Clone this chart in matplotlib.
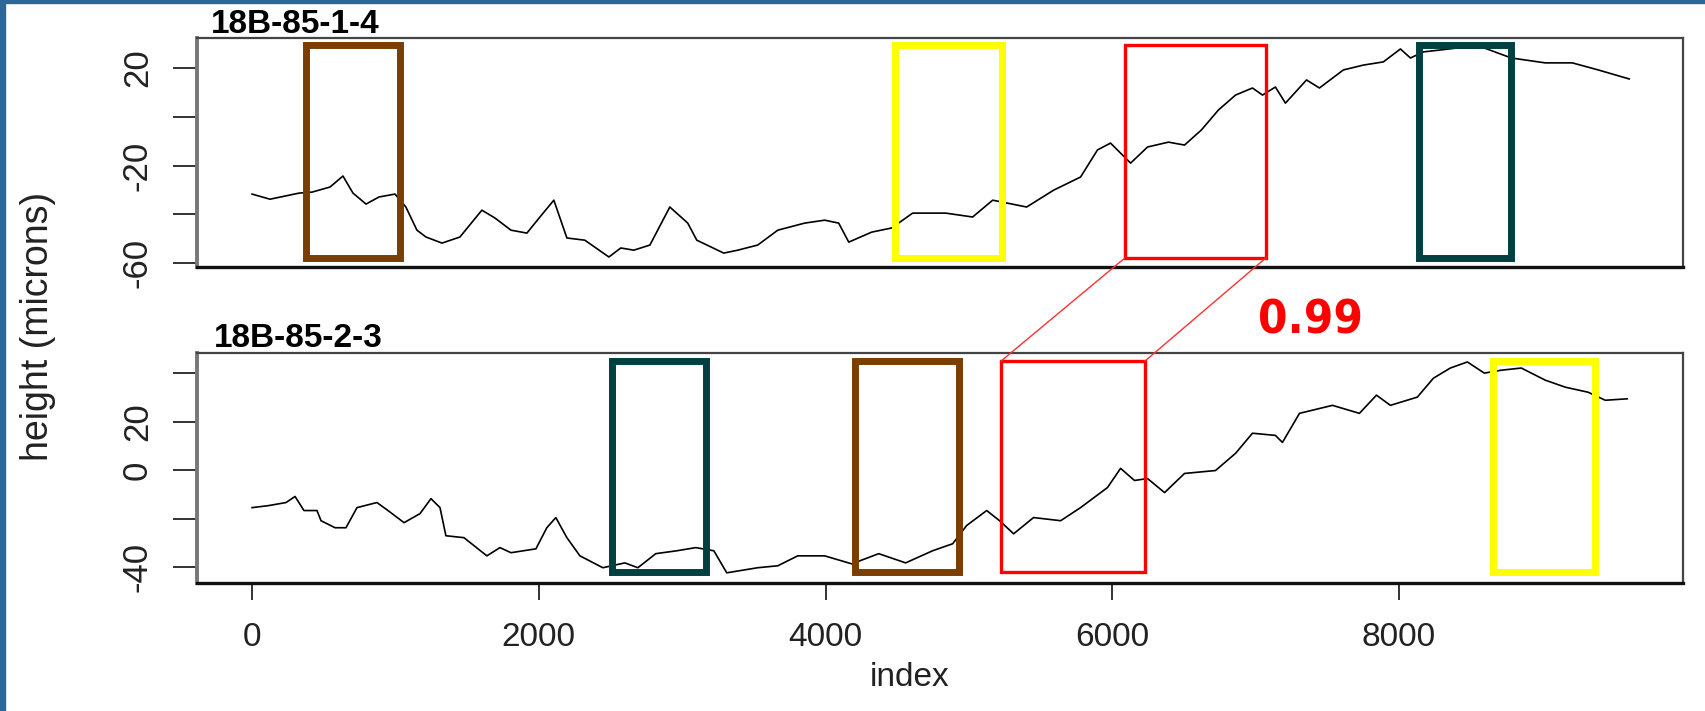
import matplotlib.pyplot as plt
from matplotlib.patches import ConnectionPatch, Rectangle

# profile 18B-85-1-4 (index, height in microns)
top_idx = [0, 125, 328, 418, 544, 634, 704, 795, 885, 997, 1073, 1150, 1213, 1325,
           1450, 1603, 1694, 1806, 1917, 2008, 2105, 2196, 2321, 2489, 2572, 2663,
           2775, 2914, 3039, 3102, 3290, 3388, 3527, 3667, 3855, 3994, 4092, 4162,
           4322, 4461, 4608, 4838, 5026, 5166, 5403, 5591, 5779, 5897, 5988, 6128,
           6246, 6392, 6504, 6622, 6741, 6860, 6978, 7048, 7138, 7208, 7355, 7445,
           7612, 7752, 7891, 8010, 8080, 8170, 8407, 8595, 8784, 9020, 9209, 9390, 9606]
top_height = [-31.7, -33.8, -31.3, -30.9, -28.8, -24.3, -31.3, -35.8, -32.9, -31.7, -37.0,
              -46.5, -49.3, -51.8, -49.3, -38.3, -41.5, -46.5, -47.7, -41.1, -34.2, -49.7,
              -50.6, -57.5, -53.8, -54.7, -52.6, -37.0, -43.6, -50.6, -55.9, -54.7, -52.6,
              -46.5, -43.6, -42.4, -43.6, -51.4, -47.3, -45.6, -39.5, -39.5, -41.1, -34.2,
              -37.0, -30.1, -24.7, -13.6, -10.8, -19.0, -12.4, -10.4, -11.6, -5.4, 2.8, 8.9,
              11.8, 8.9, 12.2, 5.6, 15.1, 11.8, 19.2, 21.2, 22.5, 27.8, 24.1, 26.6, 28.2,
              28.2, 24.1, 22.1, 22.1, 19.2, 15.5]

# profile 18B-85-2-3
bottom_idx = [0, 112, 237, 300, 362, 453, 481, 579, 655, 732, 871, 948, 1060, 1171, 1248,
              1311, 1352, 1478, 1638, 1729, 1806, 1980, 2056, 2119, 2196, 2287, 2447, 2600,
              2691, 2816, 2963, 3095, 3221, 3311, 3527, 3667, 3806, 3994, 4183, 4371, 4559,
              4747, 4887, 4984, 5124, 5214, 5312, 5451, 5640, 5779, 5967, 6058, 6155, 6246,
              6365, 6504, 6720, 6860, 6978, 7138, 7187, 7306, 7536, 7724, 7843, 7940, 8128,
              8240, 8358, 8477, 8595, 8714, 8853, 9020, 9160, 9320, 9439, 9592]
bottom_height = [-15.5, -14.7, -13.4, -10.9, -16.7, -16.7, -20.9, -23.8, -23.8, -15.5, -13.4,
                 -16.7, -21.7, -18.0, -11.8, -15.5, -27.1, -27.9, -35.4, -32.0, -34.1, -32.5,
                 -23.8, -19.6, -27.9, -35.4, -40.3, -38.3, -40.3, -34.5, -33.3, -32.0, -33.3,
                 -42.4, -40.3, -39.5, -35.4, -35.4, -38.7, -34.5, -38.3, -33.3, -30.4, -22.9,
                 -16.7, -20.9, -26.3, -19.6, -20.9, -15.5, -7.2, 0.7, -4.3, -3.5, -9.3, -1.4,
                 -0.2, 6.9, 15.2, 14.3, 11.4, 23.4, 26.7, 23.4, 30.9, 26.7, 30.1, 37.9, 42.1,
                 44.6, 40.0, 41.2, 42.1, 37.1, 34.2, 32.1, 28.8, 29.4]

top_name = "18B-85-1-4"
bottom_name = "18B-85-2-3"

# highlighted index windows (start, end)
top_windows = {"brown": (373, 1029), "yellow": (4488, 5234), "red": (6089, 7072), "teal": (8140, 8781)}
bottom_windows = {"teal": (2511, 3166), "brown": (4209, 4931), "red": (5224, 6228), "yellow": (8656, 9367)}
match_score = "0.99"

x_ticks = [0, 2000, 4000, 6000, 8000]
top_yticks = [-60, -40, -20, 0, 20]
top_ytick_labels = ["-60", "", "-20", "", "20"]
bottom_yticks = [-40, -20, 0, 20, 40]
bottom_ytick_labels = ["-40", "", "0", "20", ""]

W, H = 1706, 711
colors = {"brown": "#7a3e00", "yellow": "#ffff00", "red": "#ff0000", "teal": "#004040"}
widths = {"brown": 5, "yellow": 5, "red": 2.4, "teal": 5}
narrow = ["Liberation Sans Narrow", "Liberation Sans", "DejaVu Sans"]

plt.rcParams["font.family"] = ["Liberation Sans", "DejaVu Sans"]


def px_box(left, top, right, bottom):
    return [left / W, 1 - bottom / H, (right - left) / W, (bottom - top) / H]


fig = plt.figure(figsize=(W / 100, H / 100), dpi=100)
fig.patch.set_facecolor("white")

ax_top = fig.add_axes(px_box(197, 38, 1683, 267))
ax_bot = fig.add_axes(px_box(197, 353, 1683, 583))

panels = [
    (ax_top, top_idx, top_height, top_windows, (-61.6, 32.3), top_yticks, top_ytick_labels, (0.04, 0.97)),
    (ax_bot, bottom_idx, bottom_height, bottom_windows, (-46.6, 48.3), bottom_yticks, bottom_ytick_labels, (0.05, 0.965)),
]

for ax, xs, ys, windows, ylim, yt, ytl, (y0, y1) in panels:
    ax.plot(xs, ys, color="black", lw=1.2, zorder=3)
    trans = ax.get_xaxis_transform()
    for name, (start, end) in windows.items():
        ax.add_patch(Rectangle((start, y0), end - start, y1 - y0, transform=trans,
                               fill=False, edgecolor=colors[name], lw=widths[name],
                               joinstyle="miter", zorder=4))
    ax.set_xlim(-384, 9981)
    ax.set_ylim(*ylim)
    ax.set_yticks(yt)
    ax.set_yticklabels(ytl)
    ax.tick_params(axis="y", length=17, width=1.4, color="#333333", pad=14, labelsize=25)
    for lab in ax.get_yticklabels():
        lab.set_rotation(90)
        lab.set_va("center")
        lab.set_fontfamily(narrow)
        lab.set_color("#222222")
    for side in ["top", "right"]:
        ax.spines[side].set_color("#444444")
        ax.spines[side].set_linewidth(1.6)
    ax.spines["left"].set_color("#777777")
    ax.spines["left"].set_linewidth(2.8)
    ax.spines["bottom"].set_color("#111111")
    ax.spines["bottom"].set_linewidth(2.4)

ax_top.set_xticks([])
ax_bot.set_xticks(x_ticks)
ax_bot.set_xticklabels([str(t) for t in x_ticks])
ax_bot.tick_params(axis="x", length=12, width=1.4, color="#333333", pad=16,
                   labelsize=24, labelcolor="#222222")

# lines linking the matched red windows
for k in (0, 1):
    con = ConnectionPatch(xyA=(top_windows["red"][k], 0.04), coordsA=ax_top.get_xaxis_transform(),
                          xyB=(bottom_windows["red"][k], 0.965), coordsB=ax_bot.get_xaxis_transform(),
                          color="#ff3030", lw=1.0, zorder=5)
    fig.add_artist(con)

fig.text(1258 / W, 1 - 333 / H, match_score, color="#ff0000", fontsize=34, fontweight="bold",
         fontstretch="condensed", family=["DejaVu Sans"], ha="left", va="baseline")

fig.text(211 / W, 1 - 33 / H, top_name, fontsize=24, fontweight="bold", ha="left", va="baseline")
fig.text(214 / W, 1 - 347 / H, bottom_name, fontsize=24, fontweight="bold", ha="left", va="baseline")

fig.text(38 / W, 1 - 326 / H, "height (microns)", rotation=90, fontsize=27, family=narrow,
         color="#222222", ha="center", va="center")
fig.text(910 / W, 1 - 678 / H, "index", fontsize=24, color="#222222", ha="center", va="center")

# blue frame of the slide
blue = "#2f6699"
fig.add_artist(Rectangle((0, 0), 5 / W, 1, transform=fig.transFigure, color=blue, zorder=10))
fig.add_artist(Rectangle((0, 1 - 3 / H), 1, 3 / H, transform=fig.transFigure, color=blue, zorder=10))

fig.savefig("out.png", dpi=100)
